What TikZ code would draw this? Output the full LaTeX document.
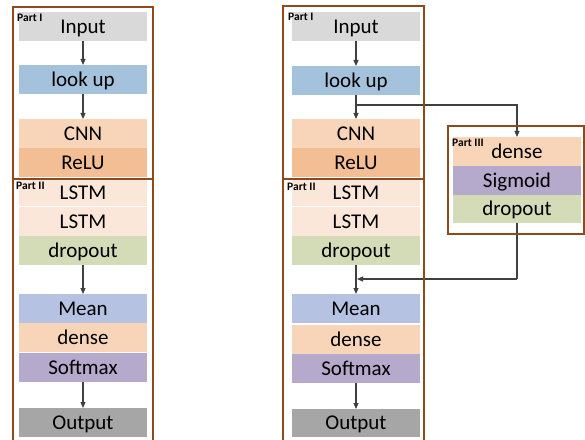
\documentclass[tikz,border=0pt]{standalone}
\usepackage{fontspec}
\setmainfont{Carlito}
\usetikzlibrary{arrows.meta,positioning}
\definecolor{cInput}{HTML}{D9D9D9}
\definecolor{cLook}{HTML}{A5C2DD}
\definecolor{cCNN}{HTML}{F8D5B9}
\definecolor{cRelu}{HTML}{F4BE94}
\definecolor{cLSTM}{HTML}{FBE6DA}
\definecolor{cDrop}{HTML}{D4DCB7}
\definecolor{cMean}{HTML}{B6C2E1}
\definecolor{cDense}{HTML}{F8D5B9}
\definecolor{cSoft}{HTML}{B5A9CC}
\definecolor{cOut}{HTML}{A6A6A6}
\definecolor{cBrown}{HTML}{8F4A1C}
\definecolor{cArrow}{HTML}{404040}
\tikzset{
  blk/.style={draw=none, minimum width=128bp, inner sep=0pt, outer sep=0pt,
    font=\fontsize{21bp}{25bp}\selectfont, text height=13.5bp, text depth=0bp},
  part/.style={draw=cBrown, line width=2bp},
  plabel/.style={font=\bfseries\fontsize{11.5bp}{13bp}\selectfont, inner sep=0pt, anchor=base west},
  conn/.style={draw=cArrow, line width=1.1bp, -{Triangle[length=6bp,width=5bp]}},
  seg/.style={draw=cArrow, line width=1.1bp}
}
\begin{document}
\begin{tikzpicture}[x=1bp,y=-1bp]
\useasboundingbox (0,0) rectangle (585,440);
\clip (0,0) rectangle (585,440);
% ---------- left column ----------
\node[blk, fill=cInput, minimum height=29bp] (Lin) at (83,26.5) {Input};
\node[blk, fill=cLook, minimum height=29bp] (Llook) at (83,79.5) {look up};
\node[blk, fill=cCNN, minimum height=29bp] (Lcnn) at (83,133.5) {CNN};
\node[blk, fill=cRelu, minimum height=29bp] (Lrelu) at (83,162.5) {ReLU};
\node[blk, fill=cLSTM, minimum height=28bp] (Llstma) at (83,192.5) {LSTM};
\node[blk, fill=cLSTM, minimum height=28.5bp] (Llstmb) at (83,221.5) {LSTM};
\node[blk, fill=cDrop, minimum height=29bp] (Ldrop) at (83,250.5) {dropout};
\node[blk, fill=cMean, minimum height=29bp] (Lmean) at (83,308.5) {Mean};
\node[blk, fill=cDense, minimum height=28.5bp] (Ldense) at (83,337.5) {dense};
\node[blk, fill=cSoft, minimum height=29bp] (Lsoft) at (83,367.5) {Softmax};
\node[blk, fill=cOut, minimum height=29bp] (Lout) at (83,422.5) {Output};
\draw[conn] (Lin) -- (Llook);
\draw[conn] (Llook) -- (Lcnn);
\draw[conn] (Ldrop) -- (Lmean);
\draw[conn] (Lsoft) -- (Lout);
\draw[part] (13,7) rectangle (153,179);
\draw[part] (13,179) rectangle (153,445);
\node[plabel] (LpI) at (17,22) {Part I};
\node[plabel] (LpII) at (16,190) {Part II};
% ---------- right column ----------
\node[blk, fill=cInput, minimum height=29bp] (Rin) at (356,26.5) {Input};
\node[blk, fill=cLook, minimum height=29bp] (Rlook) at (356,80.5) {look up};
\node[blk, fill=cCNN, minimum height=29bp] (Rcnn) at (356,133.5) {CNN};
\node[blk, fill=cRelu, minimum height=29bp] (Rrelu) at (356,162.5) {ReLU};
\node[blk, fill=cLSTM, minimum height=28bp] (Rlstma) at (356,192.5) {LSTM};
\node[blk, fill=cLSTM, minimum height=28.5bp] (Rlstmb) at (356,221.5) {LSTM};
\node[blk, fill=cDrop, minimum height=29bp] (Rdrop) at (356,250.5) {dropout};
\node[blk, fill=cMean, minimum height=29bp] (Rmean) at (356,308.5) {Mean};
\node[blk, fill=cDense, minimum height=28.5bp] (Rdense) at (356,339.5) {dense};
\node[blk, fill=cSoft, minimum height=29bp] (Rsoft) at (356,368.5) {Softmax};
\node[blk, fill=cOut, minimum height=28bp] (Rout) at (356,423) {Output};
% ---------- part III ----------
\node[blk, fill=cDense, minimum height=29bp] (Pdense) at (517,151.5) {dense};
\node[blk, fill=cSoft, minimum height=29bp] (Psig) at (517,180.5) {Sigmoid};
\node[blk, fill=cDrop, minimum height=28.5bp] (Pdrop) at (517,209) {dropout};
% connectors
\coordinate (Rsplit) at (356,105);
\coordinate (Rmerge) at (357,279);
\coordinate (Rturn) at (517,279);
\draw[conn] (Rin) -- (Rlook);
\draw[conn] (Rlook) -- (Rcnn);
\draw[conn] (Rsplit) -| (Pdense.north);
\draw[conn] (Rdrop) -- (Rmean);
\draw[conn] (Rsoft) -- (Rout);
\draw[seg] (Pdrop.south) -- (Rturn);
\draw[conn] (Rturn) -- (Rmerge);
\draw[part] (283,6) rectangle (424,179);
\draw[part] (283,179) rectangle (424,445);
\draw[part] (448,126) rectangle (584,234);
\node[plabel] (RpI) at (288,21) {Part I};
\node[plabel] (RpII) at (287,191) {Part II};
\node[plabel] (RpIII) at (452,147) {Part III};
\end{tikzpicture}
\end{document}
